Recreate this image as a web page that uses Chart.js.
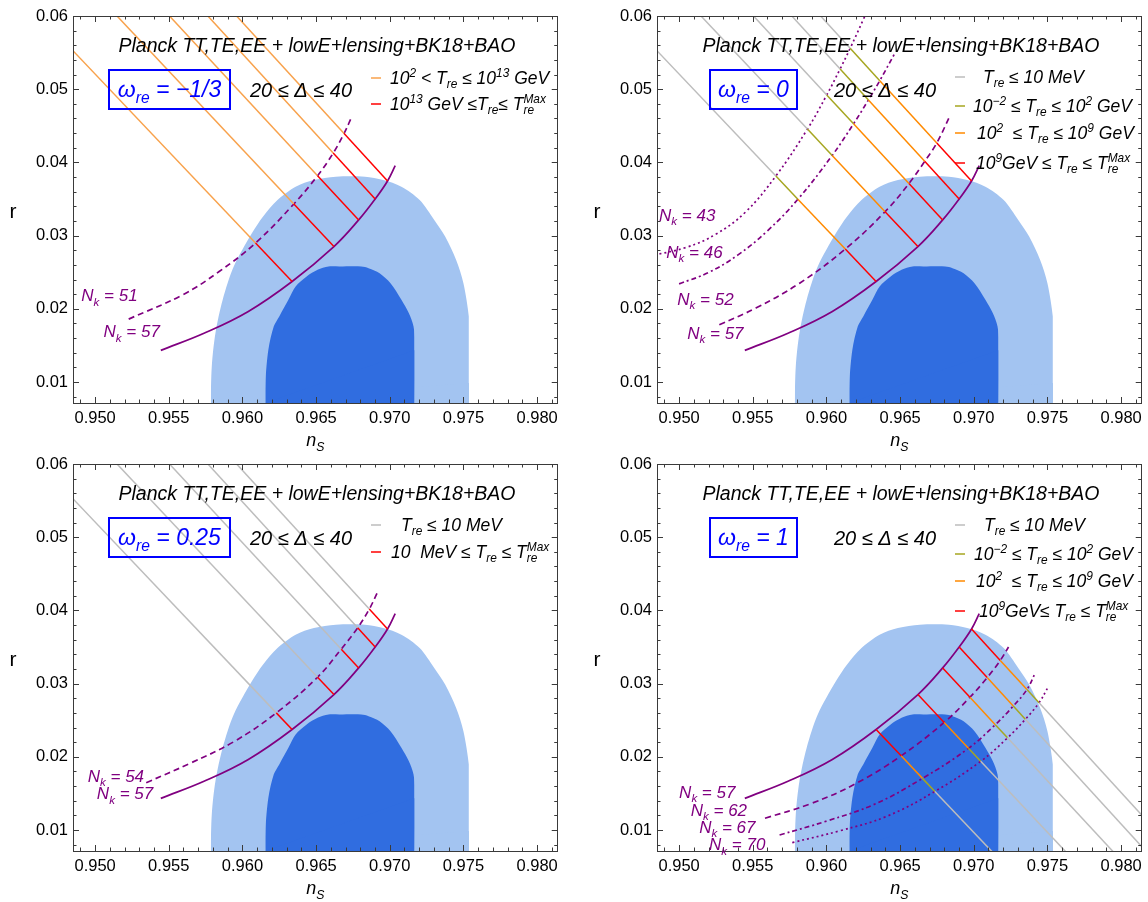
<!DOCTYPE html>
<html>
<head>
<meta charset="utf-8">
<script src="https://cdn.jsdelivr.net/npm/chart.js@4.4.1/dist/chart.umd.min.js"></script>
<style>
  body { margin: 0; background: #fff; width: 1148px; height: 902px; overflow: hidden; position: relative; }
  canvas { position: absolute; }
</style>
</head>
<body>
<canvas id="pA" width="564" height="451" style="left:0;top:0"></canvas>
<canvas id="pB" width="564" height="451" style="left:584px;top:0"></canvas>
<canvas id="pC" width="564" height="451" style="left:0;top:448px"></canvas>
<canvas id="pD" width="564" height="451" style="left:584px;top:448px"></canvas>
<script>
// axis ticks
const nsTicks = [0.950, 0.955, 0.960, 0.965, 0.970, 0.975, 0.980];
const rTicks = [0.01, 0.02, 0.03, 0.04, 0.05, 0.06];

// Planck + BK18 + BAO contours (upper edge, n_s vs r)
const planck95 = [[0.95785,0.005],[0.95785,0.00705],[0.95792,0.01214],[0.95817,0.01669],[0.95866,0.02123],[0.95941,0.02578],[0.96064,0.03032],[0.96139,0.03259],[0.96238,0.03487],[0.96361,0.03668],[0.96485,0.03759],[0.96634,0.03805],[0.96832,0.03805],[0.96955,0.03759],[0.97079,0.03668],[0.97203,0.03487],[0.97302,0.03214],[0.97376,0.02987],[0.9745,0.02669],[0.975,0.0235],[0.97537,0.01896],[0.97554,0.01441],[0.97549,0.00987],[0.97537,0.005]];
const planck68 = [[0.96156,0.005],[0.96156,0.00987],[0.96176,0.01441],[0.96213,0.0176],[0.9625,0.01896],[0.96312,0.02123],[0.96361,0.02305],[0.96436,0.02441],[0.9651,0.02532],[0.96584,0.02578],[0.96658,0.02578],[0.96807,0.02578],[0.96856,0.02555],[0.96931,0.02487],[0.97005,0.0235],[0.97079,0.02123],[0.97129,0.01941],[0.97161,0.0176],[0.97178,0.01441],[0.97178,0.01123],[0.97166,0.005]];

// N_k = 57 curve (all panels)
const nk57 = [[0.95446,0.01432],[0.95743,0.01669],[0.9604,0.01964],[0.96337,0.02373],[0.96621,0.0285],[0.96789,0.03214],[0.96901,0.035],[0.96985,0.03746],[0.97037,0.03955]];

// w_re = -1/3
const nk51A = [[0.95228,0.01859],[0.95594,0.02191],[0.95842,0.02509],[0.96089,0.02899],[0.96349,0.03432],[0.9651,0.03819],[0.96616,0.04127],[0.9669,0.04395],[0.96737,0.046]];
const linesA = [
  [[0.948,0.05631],[0.96089,0.02899],[0.96337,0.02373]],
  [[0.95102,0.061],[0.96349,0.03432],[0.96621,0.0285]],
  [[0.95459,0.061],[0.9651,0.03819],[0.96789,0.03214]],
  [[0.9572,0.061],[0.96616,0.04127],[0.96901,0.035]],
  [[0.95915,0.061],[0.9669,0.04395],[0.96985,0.03746]]
];

// w_re = 0
const nk43B = [[0.948,0.0272],[0.9505,0.0284],[0.9525,0.0302],[0.9545,0.0332],[0.95657,0.03815],[0.95871,0.04455],[0.96002,0.04921],[0.96093,0.05277],[0.96161,0.05559],[0.96252,0.0596],[0.9627,0.0605]];
const nk46B = [[0.95,0.02341],[0.952,0.02496],[0.954,0.02737],[0.956,0.03066],[0.95806,0.03496],[0.96039,0.04095],[0.96184,0.04527],[0.96285,0.04854],[0.96362,0.05117],[0.96463,0.05486]];
const nk52B = [[0.95273,0.01782],[0.95521,0.0201],[0.95818,0.0235],[0.96128,0.02816],[0.96398,0.03327],[0.9656,0.03711],[0.96667,0.04015],[0.96749,0.04265],[0.96839,0.0464]];
const linesB = [
  [[0.948,0.05631],[0.95657,0.03815],[0.95806,0.03496],[0.96128,0.02816],[0.96337,0.02373]],
  [[0.95102,0.061],[0.95871,0.04455],[0.96039,0.04095],[0.96398,0.03327],[0.96621,0.0285]],
  [[0.95459,0.061],[0.96002,0.04921],[0.96184,0.04527],[0.9656,0.03711],[0.96789,0.03214]],
  [[0.9572,0.061],[0.96093,0.05277],[0.96285,0.04854],[0.96667,0.04015],[0.96901,0.035]],
  [[0.95915,0.061],[0.96161,0.05559],[0.96362,0.05117],[0.96749,0.04265],[0.96985,0.03746]]
];

// w_re = 0.25
const nk54C = [[0.95347,0.01646],[0.95643,0.01909],[0.9594,0.02204],[0.9623,0.026],[0.9651,0.03088],[0.96671,0.03472],[0.96782,0.03762],[0.96861,0.04018],[0.96915,0.0424]];
const linesC = [
  [[0.948,0.05631],[0.9623,0.026],[0.96337,0.02373]],
  [[0.95102,0.061],[0.9651,0.03088],[0.96621,0.0285]],
  [[0.95459,0.061],[0.96671,0.0347],[0.96789,0.03214]],
  [[0.9572,0.061],[0.96782,0.03762],[0.96901,0.035]],
  [[0.95915,0.061],[0.96861,0.04019],[0.96985,0.03746]]
];

// w_re = 1
const nk62D = [[0.95583,0.0116],[0.95893,0.01359],[0.962,0.01634],[0.96507,0.02013],[0.96799,0.02469],[0.96974,0.02813],[0.97091,0.03082],[0.9718,0.03317],[0.97236,0.035]];
const nk67D = [[0.95682,0.00932],[0.96003,0.01123],[0.9633,0.01355],[0.96652,0.01705],[0.96964,0.02116],[0.97146,0.02439],[0.97268,0.02693],[0.97361,0.02919],[0.97417,0.03146]];
const nk70D = [[0.95768,0.00828],[0.96093,0.0099],[0.9641,0.01187],[0.96736,0.01527],[0.97047,0.01938],[0.97229,0.02259],[0.9735,0.02512],[0.97443,0.02738],[0.97499,0.02932]];
const linesD = [
  [[0.96337,0.02373],[0.96507,0.02013],[0.96652,0.01705],[0.96736,0.01527],[0.9722,0.00501]],
  [[0.96621,0.0285],[0.96799,0.02469],[0.96964,0.02116],[0.97047,0.01938],[0.97719,0.005]],
  [[0.96789,0.03214],[0.96974,0.02813],[0.97146,0.02439],[0.97229,0.02259],[0.9804,0.005]],
  [[0.96901,0.035],[0.97091,0.03082],[0.97268,0.02693],[0.9735,0.02512],[0.9825,0.00532]],
  [[0.96985,0.03746],[0.9718,0.03317],[0.97361,0.02919],[0.97443,0.02738],[0.9825,0.00963]]
];

// N_k labels: [text, n_s at left, r at middle]
const labelsA = [['51',0.94906,0.02182],['57',0.95057,0.01691]];
const labelsB = [['43',0.94864,0.03282],['46',0.94913,0.02782],['52',0.94988,0.02132],['57',0.95055,0.01669]];
const labelsC = [['54',0.9495,0.01737],['57',0.95012,0.015]];
const labelsD = [['57',0.950,0.01523],['62',0.95079,0.01273],['67',0.95136,0.01046],['70',0.95203,0.00805]];

const ORANGE_L = '#f8a24c', ORANGE = '#ff8a00', RED = '#ff0000', OLIVE = '#a6a621', GRAY = '#bdbdbd';
const PURPLE = '#800080', BLUE = '#0000ff', LIGHT_BLUE = '#a3c4f1', DARK_BLUE = '#306de0';
const FONT = '"Liberation Sans", Arial, sans-serif';
const DASHED = [6, 4], DOTTED = [2, 3], DASHDOT = [5, 3, 2, 3];

const panels = [
  { id: 'pA', lines: linesA, seg: [ORANGE_L, RED], labels: labelsA,
    curves: [{ pts: nk51A, dash: DASHED }],
    omega: '−1/3', box: [36, 157],
    legend: [
      { color: ORANGE_L, x: 317, parts: ['10', {sup: '2'}, ' < T', {sub: 're'}, ' ≤ 10', {sup: '13'}, ' GeV'] },
      { color: RED, x: 317, parts: ['10', {sup: '13'}, ' GeV ≤T', {sub: 're'}, '≤ T', {sub: 're', sup: 'Max'}] }
    ], rows: [68, 94] },
  { id: 'pB', lines: linesB, seg: [GRAY, OLIVE, ORANGE, RED], labels: labelsB,
    curves: [{ pts: nk43B, dash: DOTTED }, { pts: nk46B, dash: DASHDOT }, { pts: nk52B, dash: DASHED }],
    omega: '0', box: [53, 140],
    legend: [
      { color: GRAY, x: 326, parts: ['T', {sub: 're'}, ' ≤ 10 MeV'] },
      { color: OLIVE, x: 316, parts: ['10', {sup: '−2'}, ' ≤ T', {sub: 're'}, ' ≤ 10', {sup: '2'}, ' GeV'] },
      { color: ORANGE, x: 320, parts: ['10', {sup: '2'}, '  ≤ T', {sub: 're'}, ' ≤ 10', {sup: '9'}, ' GeV'] },
      { color: RED, x: 319, parts: ['10', {sup: '9'}, 'GeV ≤ T', {sub: 're'}, ' ≤ T', {sub: 're', sup: 'Max'}] }
    ], rows: [67, 96, 123, 153] },
  { id: 'pC', lines: linesC, seg: [GRAY, RED], labels: labelsC,
    curves: [{ pts: nk54C, dash: DASHED }],
    omega: '0.25', box: [36, 157],
    legend: [
      { color: GRAY, x: 328, parts: ['T', {sub: 're'}, ' ≤ 10 MeV'] },
      { color: RED, x: 318, parts: ['10  MeV ≤ T', {sub: 're'}, ' ≤ T', {sub: 're', sup: 'Max'}] }
    ], rows: [67, 94] },
  { id: 'pD', lines: linesD, seg: [RED, ORANGE, OLIVE, GRAY], labels: labelsD,
    curves: [{ pts: nk62D, dash: DASHED }, { pts: nk67D, dash: DASHDOT }, { pts: nk70D, dash: DOTTED }],
    omega: '1', box: [53, 140],
    legend: [
      { color: GRAY, x: 327, parts: ['T', {sub: 're'}, ' ≤ 10 MeV'] },
      { color: OLIVE, x: 317, parts: ['10', {sup: '−2'}, ' ≤ T', {sub: 're'}, ' ≤ 10', {sup: '2'}, ' GeV'] },
      { color: ORANGE, x: 319, parts: ['10', {sup: '2'}, '  ≤ T', {sub: 're'}, ' ≤ 10', {sup: '9'}, ' GeV'] },
      { color: RED, x: 322, parts: ['10', {sup: '9'}, 'GeV≤ T', {sub: 're'}, ' ≤ T', {sub: 're', sup: 'Max'}] }
    ], rows: [67, 96, 123, 153] }
];

const pts = arr => arr.map(([x, y]) => ({ x, y }));

// text with sub/superscripts, returns width
function rich(ctx, parts, x, y, size, italic, measureOnly) {
  const f = s => (italic ? 'italic ' : '') + s + 'px ' + FONT;
  let cx = x;
  ctx.textAlign = 'left';
  ctx.textBaseline = 'alphabetic';
  for (const p of parts) {
    if (typeof p === 'string') {
      ctx.font = f(size);
      if (!measureOnly) ctx.fillText(p, cx, y);
      cx += ctx.measureText(p).width;
    } else {
      const s = size * 0.68;
      ctx.font = f(s);
      let w = 0;
      if (p.sub) { if (!measureOnly) ctx.fillText(p.sub, cx, y + size * 0.25); w = ctx.measureText(p.sub).width; }
      if (p.sup) { if (!measureOnly) ctx.fillText(p.sup, cx, y - size * 0.42); w = Math.max(w, ctx.measureText(p.sup).width); }
      cx += w;
    }
  }
  return cx - x;
}

function decor(p) {
  return {
    id: 'decor',
    afterDraw(chart) {
      const ctx = chart.ctx, a = chart.chartArea, xs = chart.scales.x, ys = chart.scales.y;
      const L = a.left, T = a.top;
      ctx.save();
      // frame with inward ticks on all sides
      ctx.strokeStyle = '#3a3a3a';
      ctx.lineWidth = 1;
      ctx.beginPath();
      for (let k = 949; k <= 981; k++) {
        const px = Math.round(xs.getPixelForValue(k / 1000)) + 0.5;
        const len = k % 5 === 0 ? 6 : 3.5;
        ctx.moveTo(px, a.bottom); ctx.lineTo(px, a.bottom - len);
        ctx.moveTo(px, a.top); ctx.lineTo(px, a.top + len);
      }
      for (let k = 8; k <= 60; k += 2) {
        const py = Math.round(ys.getPixelForValue(k / 1000)) + 0.5;
        const len = k % 10 === 0 ? 6 : 3.5;
        ctx.moveTo(a.left, py); ctx.lineTo(a.left + len, py);
        ctx.moveTo(a.right, py); ctx.lineTo(a.right - len, py);
      }
      ctx.stroke();
      ctx.strokeRect(Math.round(a.left) + 0.5, Math.round(a.top) + 0.5, Math.round(a.right - a.left) - 1, Math.round(a.bottom - a.top));

      // axis titles
      ctx.fillStyle = '#000';
      ctx.font = '21px ' + FONT;
      ctx.textAlign = 'center';
      ctx.textBaseline = 'middle';
      ctx.fillText('r', L - 60, T + 196);
      const nw = rich(ctx, ['n', {sub: 'S'}], 0, 0, 18, true, true);
      rich(ctx, ['n', {sub: 'S'}], (a.left + a.right) / 2 - nw / 2, T + 430, 18, true);

      // dataset title
      ctx.fillStyle = '#000';
      const title = ['Planck TT,TE,EE + lowE+lensing+BK18+BAO'];
      const tw = rich(ctx, title, 0, 0, 19.5, true, true);
      rich(ctx, title, L + 244 - tw / 2, T + 36, 19.5, true);

      // omega box
      ctx.strokeStyle = BLUE;
      ctx.lineWidth = 2;
      ctx.strokeRect(L + p.box[0], T + 54, p.box[1] - p.box[0], 39);
      ctx.fillStyle = BLUE;
      const om = ['ω', {sub: 're'}, ' = ' + p.omega];
      const ow = rich(ctx, om, 0, 0, 23, true, true);
      rich(ctx, om, L + (p.box[0] + p.box[1]) / 2 - ow / 2, T + 81, 23, true);

      ctx.fillStyle = '#000';
      rich(ctx, ['20 ≤ Δ ≤ 40'], L + 177, T + 81, 20, true);

      // legend
      p.legend.forEach((row, i) => {
        const y = T + p.rows[i];
        ctx.strokeStyle = row.color;
        ctx.lineWidth = 1.5;
        ctx.beginPath();
        ctx.moveTo(L + 298, y - 6); ctx.lineTo(L + 308, y - 6);
        ctx.stroke();
        ctx.fillStyle = '#000';
        rich(ctx, row.parts, L + row.x, y, 17.5, true);
      });

      // N_k labels
      ctx.fillStyle = PURPLE;
      p.labels.forEach(([t, ns, r]) => {
        rich(ctx, ['N', {sub: 'k'}, ' = ' + t], xs.getPixelForValue(ns), ys.getPixelForValue(r) + 6, 17, true);
      });
      ctx.restore();
    }
  };
}

function makePanel(p) {
  const datasets = [];
  p.lines.forEach(line => datasets.push({
    data: pts(line), showLine: true, pointRadius: 0, borderWidth: 1.5,
    borderColor: p.seg[0], segment: { borderColor: c => p.seg[c.p0DataIndex] }, order: 1
  }));
  p.curves.concat([{ pts: nk57, dash: [] }]).forEach(c => datasets.push({
    data: pts(c.pts), showLine: true, pointRadius: 0, borderWidth: 1.7,
    borderColor: PURPLE, borderDash: c.dash, tension: 0.4, order: 2
  }));
  datasets.push({ data: pts(planck68), showLine: true, pointRadius: 0, borderWidth: 0,
    backgroundColor: DARK_BLUE, fill: 'origin', tension: 0.3, order: 8 });
  datasets.push({ data: pts(planck95), showLine: true, pointRadius: 0, borderWidth: 0,
    backgroundColor: LIGHT_BLUE, fill: 'origin', tension: 0.3, order: 9 });

  new Chart(document.getElementById(p.id), {
    type: 'scatter',
    data: { datasets },
    options: {
      responsive: false,
      animation: false,
      events: [],
      layout: { padding: { left: 0, right: 6, top: 16, bottom: 0 } },
      plugins: { legend: { display: false }, tooltip: { enabled: false } },
      scales: {
        x: {
          type: 'linear', min: 0.9485, max: 0.9814,
          grid: { display: false, drawTicks: false }, border: { display: false },
          afterBuildTicks: s => { s.ticks = nsTicks.map(v => ({ value: v })); },
          afterFit: s => { s.height = 48; },
          ticks: { padding: 6, color: '#000', autoSkip: false, maxRotation: 0,
            font: { family: FONT, size: 16.5 }, callback: v => v.toFixed(3) }
        },
        y: {
          type: 'linear', min: 0.00713, max: 0.06,
          grid: { display: false, drawTicks: false }, border: { display: false },
          afterBuildTicks: s => { s.ticks = rTicks.map(v => ({ value: v })); },
          afterFit: s => { s.width = 73; },
          ticks: { padding: 5, color: '#000', autoSkip: false,
            font: { family: FONT, size: 16.5 }, callback: v => v.toFixed(2) }
        }
      }
    },
    plugins: [decor(p)]
  });
}

panels.forEach(makePanel);
</script>
</body>
</html>
